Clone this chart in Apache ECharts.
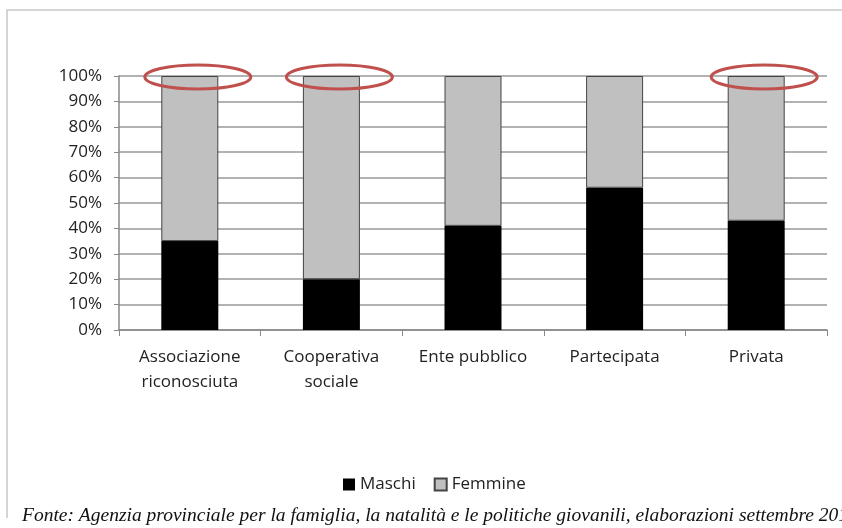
<!DOCTYPE html>
<html>
<head>
<meta charset="utf-8">
<script src="https://cdn.jsdelivr.net/npm/echarts@6/dist/echarts.min.js"></script>
<style>
  html, body { margin: 0; padding: 0; background: #fff; }
  #main { width: 842px; height: 528px; }
</style>
</head>
<body>
<div id="main"></div>
<script>
// dati (percentuali)
var categories = ['Associazione\nriconosciuta', 'Cooperativa\nsociale', 'Ente pubblico', 'Partecipata', 'Privata'];
var maschi = [35, 20, 41, 56, 43];
var femmine = [65, 80, 59, 44, 57];
var yTicks = [0, 10, 20, 30, 40, 50, 60, 70, 80, 90, 100];
// categorie cerchiate in rosso (indice, valore)
var evidenziate = [[0, 100], [1, 100], [4, 100]];
var fonte = 'Fonte: Agenzia provinciale per la famiglia, la natalità e le politiche giovanili, elaborazioni settembre 2013';

var font = 'Open Sans';
var myChart = echarts.init(document.getElementById('main'));

var option = {
    animation: false,
    backgroundColor: '#fff',
    grid: {
        left: 119,
        right: 15,
        top: 76,
        bottom: 198
    },
    legend: {
        left: 338,
        top: 471,
        icon: 'rect',
        itemWidth: 12,
        itemHeight: 12,
        itemGap: 18,
        textStyle: { fontFamily: font, fontSize: 17, color: '#222' },
        data: ['Maschi', 'Femmine']
    },
    xAxis: {
        type: 'category',
        data: categories,
        axisLine: { lineStyle: { color: '#888', width: 1.5 } },
        axisTick: { show: true, length: 6, lineStyle: { color: '#888' } },
        axisLabel: {
            fontFamily: font,
            fontSize: 17,
            color: '#222',
            lineHeight: 25,
            margin: 15
        }
    },
    yAxis: {
        type: 'value',
        min: yTicks[0],
        max: yTicks[yTicks.length - 1],
        interval: 10,
        axisLine: { show: true, lineStyle: { color: '#888', width: 1.5 } },
        axisTick: { show: true, length: 5, lineStyle: { color: '#888' } },
        axisLabel: {
            formatter: '{value}%',
            fontFamily: font,
            fontSize: 17,
            color: '#222',
            margin: 17
        },
        splitLine: { lineStyle: { color: '#999', width: 1.5 } }
    },
    series: [
        {
            name: 'Maschi',
            type: 'bar',
            stack: 'tot',
            barWidth: 57,
            itemStyle: { color: '#000' },
            data: maschi
        },
        {
            name: 'Femmine',
            type: 'bar',
            stack: 'tot',
            barWidth: 57,
            itemStyle: { color: '#c0c0c0', borderColor: '#444', borderWidth: 1 },
            data: femmine
        },
        {
            // ellissi rosse sopra le barre
            name: 'cerchi',
            type: 'custom',
            silent: true,
            z: 10,
            data: evidenziate,
            renderItem: function (params, api) {
                var p = api.coord([api.value(0), api.value(1)]);
                return {
                    type: 'ellipse',
                    shape: { cx: p[0] + 8, cy: p[1] + 1, rx: 53, ry: 12 },
                    style: { fill: 'none', stroke: '#c0504d', lineWidth: 3 }
                };
            }
        }
    ],
    graphic: [
        {
            type: 'polyline',
            shape: { points: [[7, 518], [7, 10], [842, 10]] },
            style: { stroke: '#c8c8c8', lineWidth: 1.5, fill: 'none' }
        },
        {
            type: 'text',
            left: 22,
            top: 506,
            style: {
                text: fonte,
                fontFamily: 'Liberation Serif',
                fontStyle: 'italic',
                fontSize: 19.5,
                fill: '#111'
            }
        }
    ]
};

myChart.setOption(option);
</script>
</body>
</html>
